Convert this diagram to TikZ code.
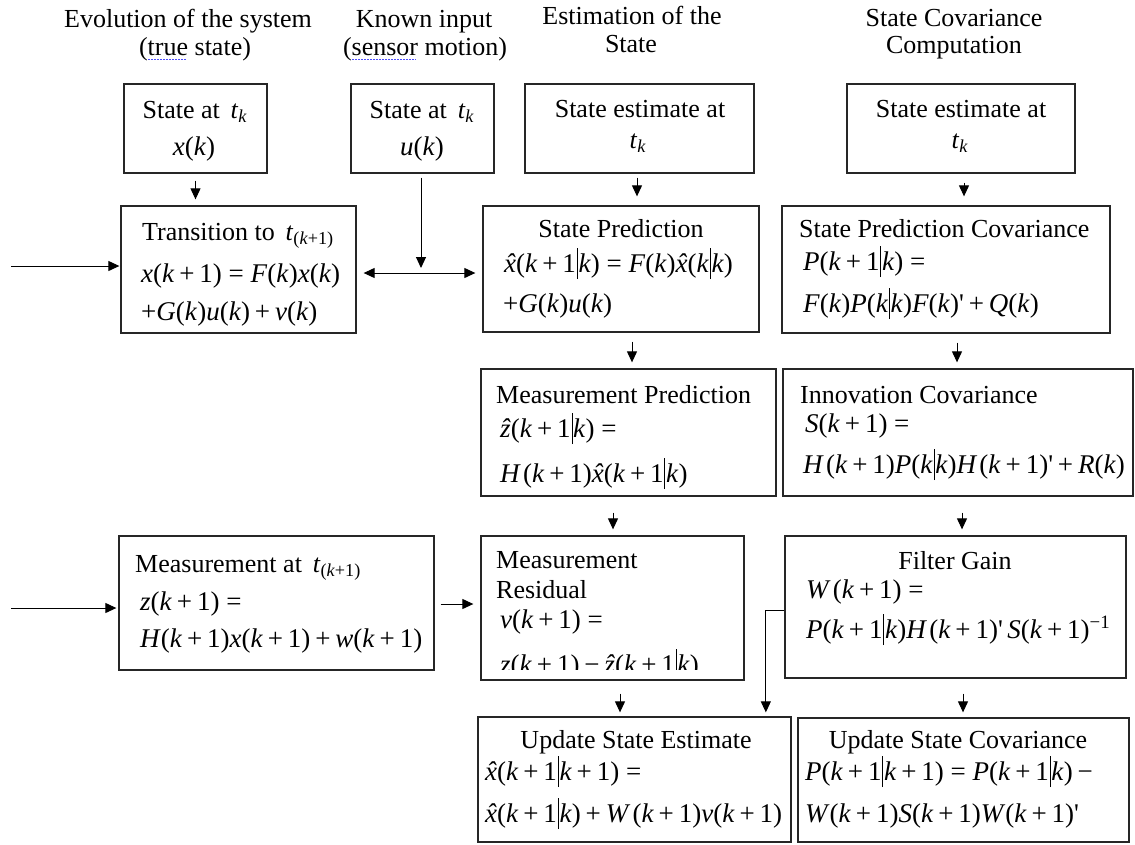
\documentclass[tikz,border=0pt]{standalone}
\usepackage{fontspec}
\setmainfont{Liberation Serif}
\usetikzlibrary{arrows.meta}
\newcommand\I[1]{\textit{#1}}
\newcommand\M[1]{{\fontsize{27}{28}\selectfont #1}}
\newcommand\kk{\textit{k}}
\newcommand\pl{\hspace{0.18em}+\hspace{0.18em}}
\newcommand\mn{\hspace{0.18em}−\hspace{0.18em}}
\newcommand\eq{\hspace{0.25em}=\hspace{0.25em}}
\newcommand\ko{(\textit{k}\pl 1}
\newcommand\vb{\hspace{0.8pt}\rule[-0.26em]{0.9pt}{1.16em}\hspace{0.8pt}}
\newcommand\hx{\textit{\accent"02C6 x}}
\newcommand\hz{\textit{\^{z}}}
\newcommand\Hh{\textit{H}\hspace{0.08em}}
\newcommand\Ww{\textit{W}\hspace{0.08em}}
\newcommand\tk{\textit{t}\textsubscript{\textit{k}}}
\newcommand\tkp{\textit{t}\textsubscript{(\textit{k}+1)}}
\newcommand\pr{\textquotesingle}
\begin{document}
\begin{tikzpicture}[x=1pt,y=-1pt,
  every node/.style={font=\fontsize{26}{28}\selectfont},
  bx/.style={draw=black!85,line width=1.3pt,inner sep=0pt},
  ct/.style={inner sep=0pt,anchor=base},
  lt/.style={inner sep=0pt,anchor=base west},
  arr/.style={line width=1pt,-{Triangle[width=10pt,length=11pt]}},
  darr/.style={line width=1pt,{Triangle[width=10pt,length=11pt]}-{Triangle[width=10pt,length=11pt]}}]
\fill[white] (0,0) rectangle (1135,844);
\useasboundingbox (0,0) rectangle (1135,844);

% headers
\node[ct] (h1a) at (188,27) {Evolution of the system};
\node[ct] (h1b) at (195,55) {(true state)};
\node[ct] (h2a) at (424,27) {Known input};
\node[ct] (h2b) at (425,55) {(sensor motion)};
\node[ct] (h3a) at (632,24) {Estimation of the};
\node[ct] (h3b) at (631,52) {State};
\node[ct] (h4a) at (954,26) {State Covariance};
\node[ct] (h4b) at (954,53) {Computation};
\draw[blue!70,line width=0.8pt,dash pattern=on 1.5pt off 1.5pt] (148,59) -- (187,59);
\draw[blue!70,line width=0.8pt,dash pattern=on 1.5pt off 1.5pt] (352,59) -- (416,59);

% boxes
\node[bx,minimum width=143pt,minimum height=89pt] (xk) at (195.5,128.5) {};
\node[bx,minimum width=143pt,minimum height=89pt] (uk) at (422.5,128.5) {};
\node[bx,minimum width=229pt,minimum height=89pt] (et) at (639.5,128.5) {};
\node[bx,minimum width=228pt,minimum height=89pt] (cv) at (961,128.5) {};
\node[bx,minimum width=235pt,minimum height=127pt] (tr) at (238.5,269.5) {};
\node[bx,minimum width=276pt,minimum height=126pt] (sp) at (621,269) {};
\node[bx,minimum width=328pt,minimum height=127pt] (spc) at (946,269.5) {};
\node[bx,minimum width=295pt,minimum height=127pt] (mp) at (628.5,432.5) {};
\node[bx,minimum width=350pt,minimum height=127pt] (ic) at (958,432.5) {};
\node[bx,minimum width=315pt,minimum height=134pt] (ms) at (276.5,603) {};
\node[bx,minimum width=263pt,minimum height=144pt] (mr) at (612.5,608) {};
\node[bx,minimum width=341pt,minimum height=142pt] (fg) at (955.5,607) {};
\node[bx,minimum width=313pt,minimum height=125pt] (use) at (634.5,779.5) {};
\node[bx,minimum width=331pt,minimum height=124pt] (usc) at (963.5,780) {};

% texts
\node[ct] (xk1) at (195,118) {State at \,\tk};
\node[ct] (xk2) at (194,155) {\M{\I{x}(\kk)}};
\node[ct] (uk1) at (422,118) {State at \,\tk};
\node[ct] (uk2) at (422,155) {\M{\I{u}(\kk)}};
\node[ct] (et1) at (640,117) {State estimate at};
\node[ct] (et2) at (638,148) {\tk};
\node[ct] (cv1) at (961,117) {State estimate at};
\node[ct] (cv2) at (960,148) {\tk};

\node[lt] (tr1) at (142,240) {Transition to \,\tkp};
\node[lt] (tr2) at (141,282) {\M{\I{x}\ko)\eq\I{F}(\kk)\I{x}(\kk)}};
\node[lt] (tr3) at (141,320) {\M{+\I{G}(\kk)\I{u}(\kk)\pl\I{v}(\kk)}};

\node[ct] (sp1) at (621,237) {State Prediction};
\node[lt] (sp2) at (504,272) {\M{\hx\ko\vb\kk)\eq\I{F}(\kk)\hx(\kk\vb\kk)}};
\node[lt] (sp3) at (503,312) {\M{+\I{G}(\kk)\I{u}(\kk)}};

\node[lt] (spc1) at (799,237) {State Prediction Covariance};
\node[lt] (spc2) at (803,270) {\M{\I{P}\ko\vb\kk)\eq}};
\node[lt] (spc3) at (803,312) {\M{\I{F}(\kk)\I{P}(\kk\vb\kk)\I{F}(\kk)\pr\pl\I{Q}(\kk)}};

\node[lt] (mp1) at (496,403) {Measurement Prediction};
\node[lt] (mp2) at (500,437) {\M{\hz\ko\vb\kk)\eq}};
\node[lt] (mp3) at (500,482) {\M{\Hh\ko)\hx\ko\vb\kk)}};

\node[lt] (ic1) at (800,403) {Innovation Covariance};
\node[lt] (ic2) at (805,432) {\M{\I{S}\ko)\eq}};
\node[lt] (ic3) at (803,473) {\M{\Hh\ko)\I{P}(\kk\vb\kk)\Hh\ko)\pr\pl\I{R}(\kk)}};

\node[lt] (ms1) at (135,572) {Measurement at \,\tkp};
\node[lt] (ms2) at (140,610) {\M{\I{z}\ko)\eq}};
\node[lt] (ms3) at (140,647) {\M{\I{H}\ko)\I{x}\ko)\pl\I{w}\ko)}};

\node[lt] (mr1) at (496,568) {Measurement};
\node[lt] (mr2) at (496,598) {Residual};
\node[lt] (mr3) at (500,628) {\M{\I{v}\ko)\eq}};
\begin{scope}
\clip (482,640) rectangle (743,669);
\node[lt] (mr4) at (500,673) {\M{\I{z}\ko)\mn\hz\ko\vb\kk)}};
\end{scope}

\node[ct] (fg1) at (955,569) {Filter Gain};
\node[lt] (fg2) at (806,598) {\M{\Ww\ko)\eq}};
\node[lt] (fg3) at (806,638) {\M{\I{P}\ko\vb\kk)\Hh\ko)\pr\,\I{S}\ko)\textsuperscript{−1}}};

\node[ct] (use1) at (636,748) {Update State Estimate};
\node[lt] (use2) at (485,780) {\M{\hx\ko\vb\kk\pl1)\eq}};
\node[lt] (use3) at (485,822) {\M{\hx\ko\vb\kk)\pl\Ww\ko)\I{v}\ko)}};

\node[ct] (usc1) at (958,748) {Update State Covariance};
\node[lt] (usc2) at (805,780) {\M{\I{P}\ko\vb\kk\pl1)\eq\I{P}\ko\vb\kk)\mn}};
\node[lt] (usc3) at (805,822) {\M{\I{W}\ko)\I{S}\ko)\I{W}\ko)\pr}};

% connectors
\coordinate (intr) at (11,266);
\coordinate (inms) at (11,608);
\coordinate (dl) at ([yshift=-3.5pt]tr.east);
\coordinate (ukb) at ([xshift=-1.5pt]uk.south);
\draw[arr,shorten >=1pt] (intr) -- (intr -| tr.west);
\draw[arr,shorten >=2pt] (inms) -- (inms -| ms.west);
\draw[arr,shorten <=7pt,shorten >=6pt] (xk.south) -- (xk.south |- tr.north);
\draw[darr,shorten <=7pt,shorten >=7pt] (dl) -- (dl -| sp.west);
\draw[arr,shorten <=4pt,shorten >=5pt] (ukb) -- (ukb |- dl);
\draw[arr,shorten <=4pt,shorten >=9pt] ([xshift=-2.5pt]et.south) -- ([xshift=-2.5pt]et.south |- sp.north);
\draw[arr,shorten <=9pt,shorten >=9pt] ([xshift=3pt]cv.south) -- ([xshift=3pt]cv.south |- spc.north);
\draw[arr,shorten <=9pt,shorten >=6pt] ([xshift=11pt]sp.south) -- ([xshift=11pt]sp.south |- mp.north);
\draw[arr,shorten <=9pt,shorten >=6pt] ([xshift=11pt]spc.south) -- ([xshift=11pt]spc.south |- ic.north);
\draw[arr,shorten <=16pt,shorten >=6pt] ([xshift=-15.5pt]mp.south) -- ([xshift=-15.5pt]mp.south |- mr.north);
\draw[arr,shorten <=16pt,shorten >=6pt] ([xshift=4pt]ic.south) -- ([xshift=4pt]ic.south |- fg.north);
\draw[arr,shorten <=6pt,shorten >=7pt] ([yshift=-1pt]ms.east) -- ([yshift=-1pt]ms.east -| mr.west);
\draw[arr,shorten <=13pt,shorten >=4pt] ([xshift=7.5pt]mr.south) -- ([xshift=7.5pt]mr.south |- use.north);
\draw[arr,shorten <=15pt,shorten >=5pt] ([xshift=7.5pt]fg.south) -- ([xshift=7.5pt]fg.south |- usc.north);
\draw[arr,shorten >=4pt] ([yshift=-3pt]fg.west) -| ([xshift=-18.5pt]fg.west |- use.north);
\end{tikzpicture}
\end{document}
